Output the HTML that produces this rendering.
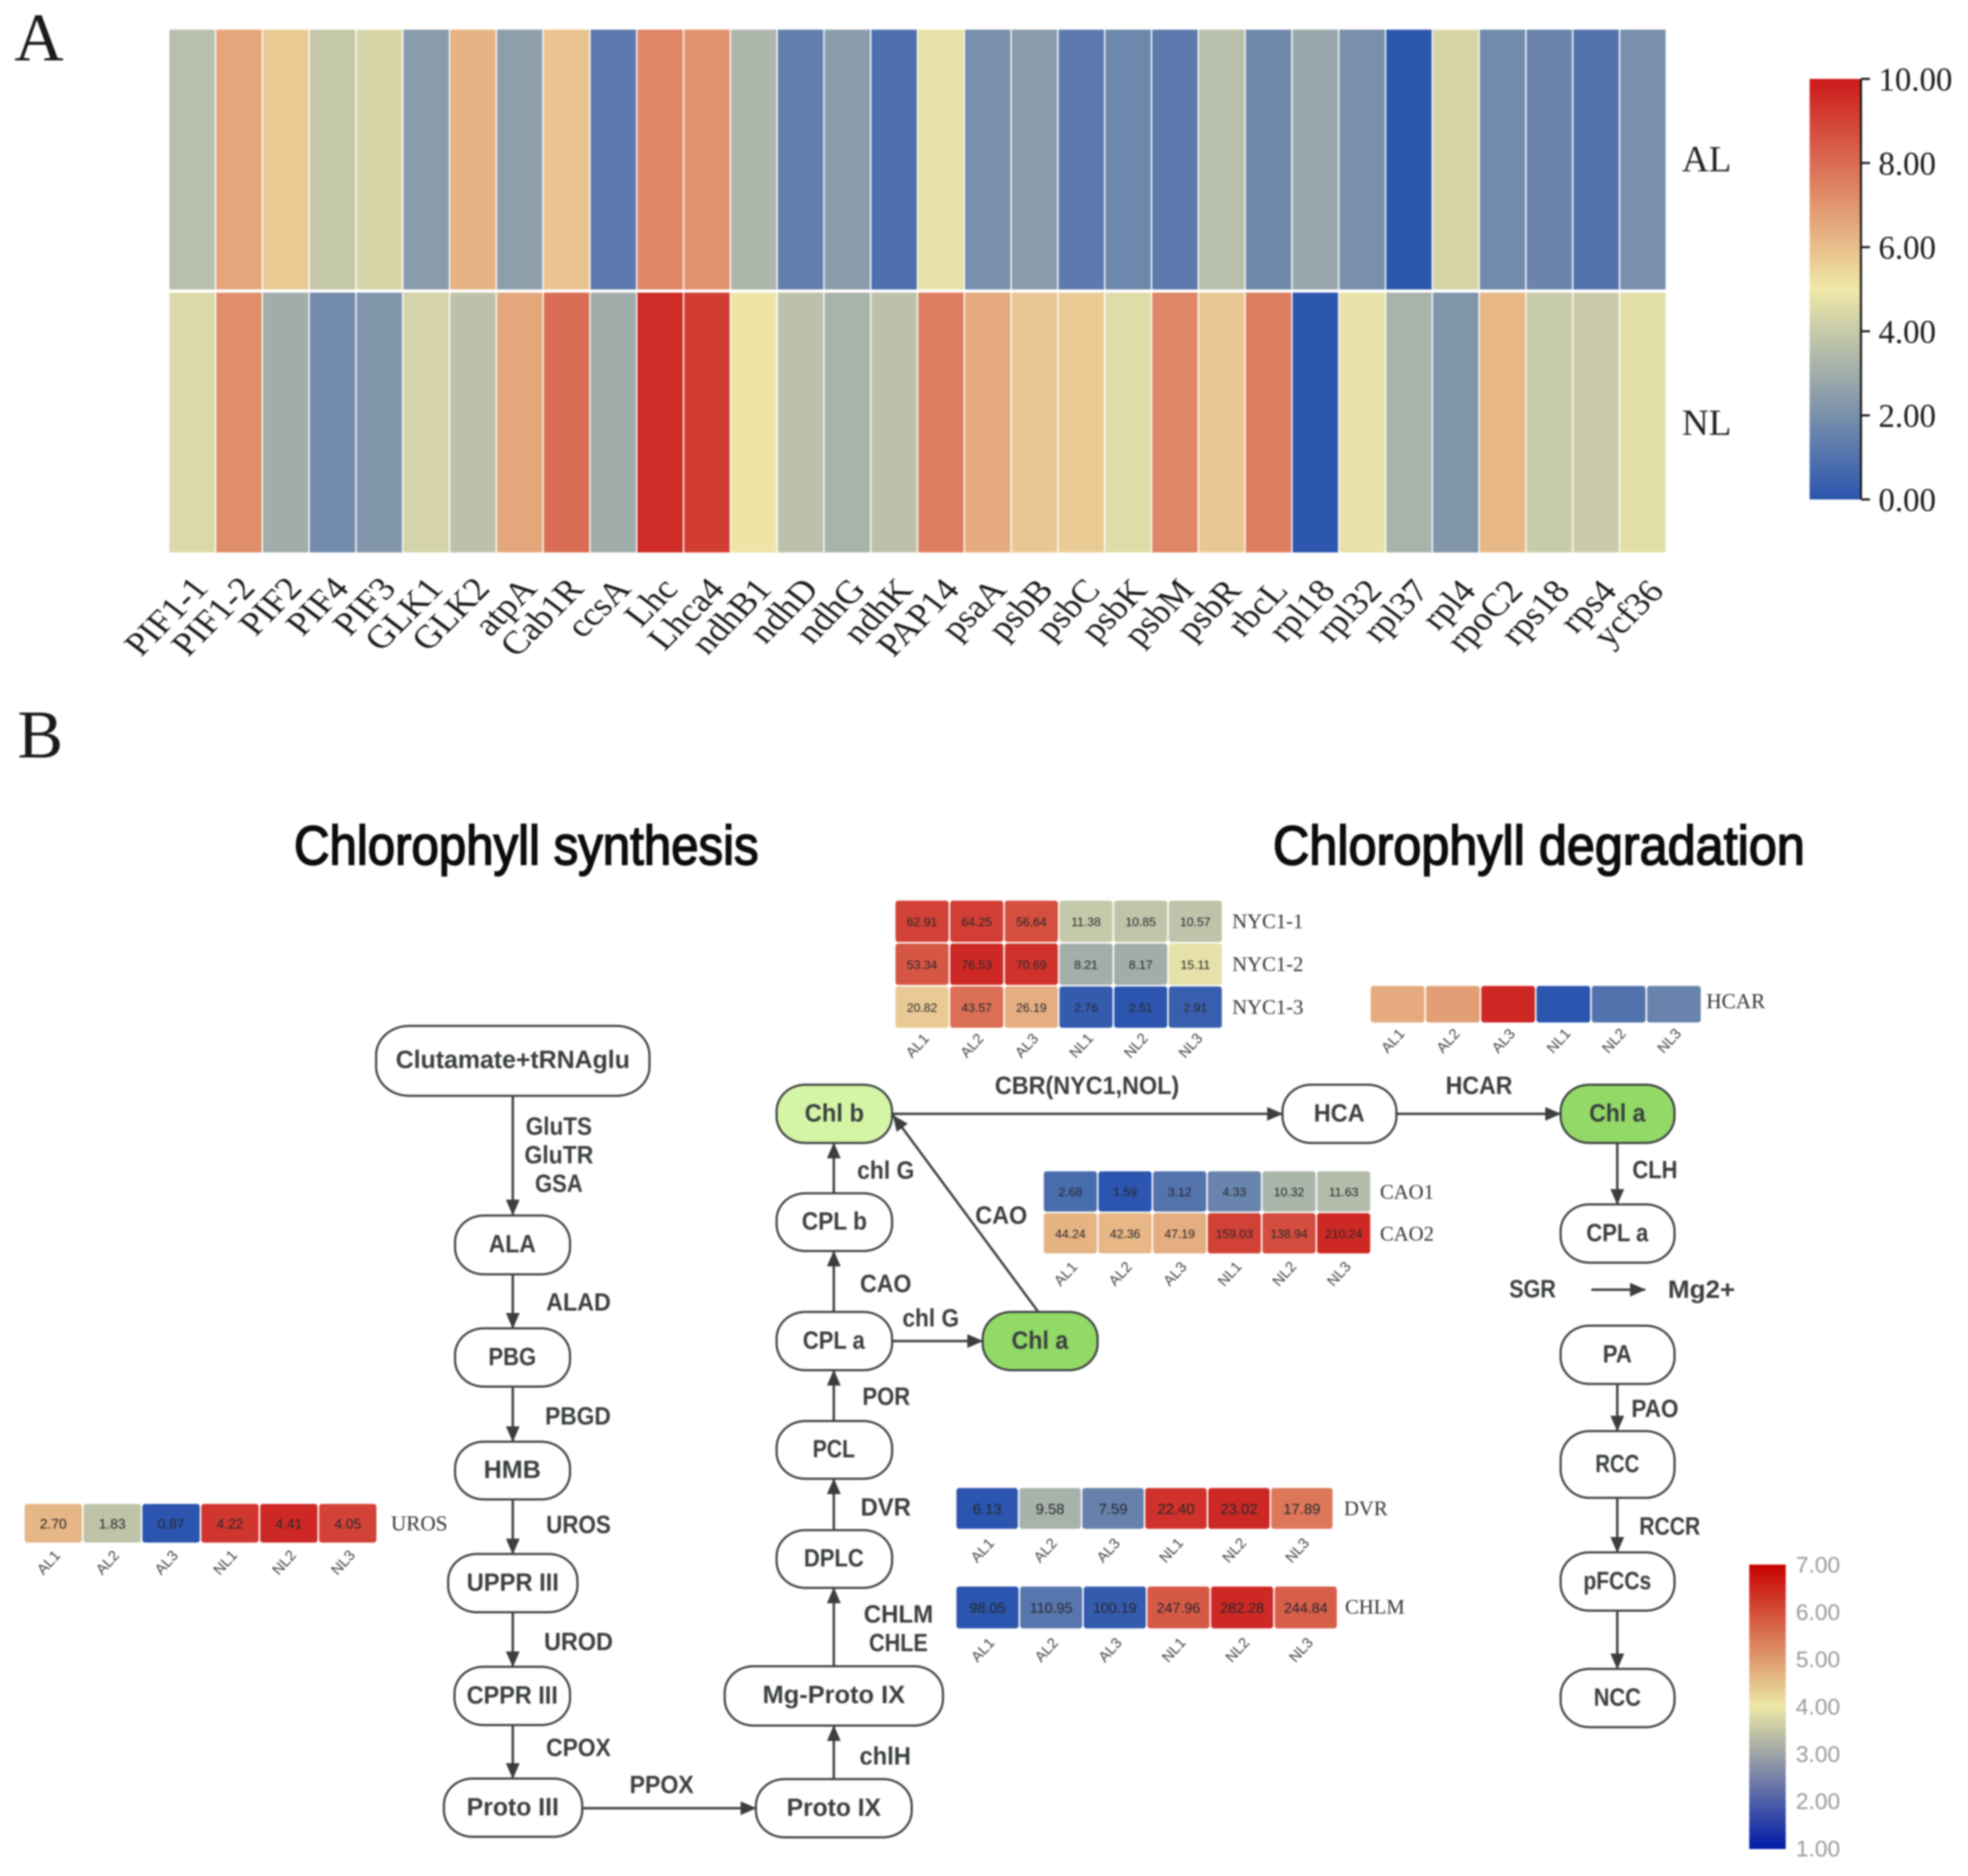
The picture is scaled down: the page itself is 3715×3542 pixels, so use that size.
<!DOCTYPE html>
<html lang="en">
<head>
<meta charset="utf-8">
<title>Chlorophyll gene expression heatmaps and metabolism pathway</title>
<style>
html,body{margin:0;padding:0;background:#fff;width:3715px;height:3542px;overflow:hidden}
svg{display:block;filter:blur(1.6px)}
.serif{font-family:"Liberation Serif",serif}
.sans{font-family:"Liberation Sans",sans-serif}
.node rect{stroke:#3b4040;stroke-width:4;fill:#fff}
.node text,.lab{font-family:"Liberation Sans",sans-serif;font-weight:bold;font-size:47px;fill:#3a3e3e;text-anchor:middle;dominant-baseline:central;transform:translateY(-2px)}
.arr{stroke:#3b3e3e;stroke-width:4.5;fill:none;marker-end:url(#arrow-head)}
</style>
</head>
<body>
<svg id="fig" xmlns="http://www.w3.org/2000/svg" width="3715" height="3542" viewBox="0 0 3715 3542">
<defs>
<marker id="arrow-head" markerUnits="userSpaceOnUse" markerWidth="30" markerHeight="26" refX="29" refY="13" orient="auto"><path d="M0 0L30 13L0 26z" fill="#3b3e3e"/></marker>
<linearGradient id="grad-a" x1="0" y1="0" x2="0" y2="1"><stop offset="0" stop-color="#cc1a1a"/><stop offset=".5" stop-color="#efe8a8"/><stop offset="1" stop-color="#2b55ae"/></linearGradient>
<linearGradient id="grad-b" x1="0" y1="0" x2="0" y2="1"><stop offset="0" stop-color="#c80000"/><stop offset=".5" stop-color="#ece8a6"/><stop offset="1" stop-color="#001aa8"/></linearGradient>
</defs>
<rect width="3715" height="3542" fill="#fff"/>

<text class="serif" x="27" y="114" font-size="129" fill="#1a1a1a">A</text>
<text class="serif" x="33" y="1430" font-size="129" fill="#1a1a1a">B</text>

<g id="panel-a"></g>
<g id="panel-a-colorbar">
  <rect x="3416" y="149" width="97" height="794" fill="url(#grad-a)"/>
</g>

<text class="sans" x="555" y="1632" font-size="104" textLength="877" lengthAdjust="spacingAndGlyphs" fill="#0c0c0c" stroke="#0c0c0c" stroke-width="3">Chlorophyll synthesis</text>
<text class="sans" x="2403" y="1632" font-size="104" textLength="1004" lengthAdjust="spacingAndGlyphs" fill="#0c0c0c" stroke="#0c0c0c" stroke-width="3">Chlorophyll degradation</text>

<g id="arrows">
  <line class="arr" x1="968" y1="2069" x2="968" y2="2294"/>
  <line class="arr" x1="968" y1="2406" x2="968" y2="2508"/>
  <line class="arr" x1="968" y1="2618" x2="968" y2="2722"/>
  <line class="arr" x1="968" y1="2831" x2="968" y2="2934"/>
  <line class="arr" x1="968" y1="3044" x2="968" y2="3147"/>
  <line class="arr" x1="968" y1="3257" x2="968" y2="3358"/>
  <line class="arr" x1="1099" y1="3414" x2="1427" y2="3414"/>
  <line class="arr" x1="1574" y1="3359" x2="1574" y2="3258"/>
  <line class="arr" x1="1574" y1="3145" x2="1574" y2="2998"/>
  <line class="arr" x1="1574" y1="2889" x2="1574" y2="2792"/>
  <line class="arr" x1="1574" y1="2683" x2="1574" y2="2587"/>
  <line class="arr" x1="1574" y1="2476" x2="1574" y2="2362"/>
  <line class="arr" x1="1574" y1="2253" x2="1574" y2="2158"/>
  <line class="arr" x1="1684" y1="2532" x2="1855" y2="2532"/>
  <line class="arr" x1="1960" y1="2477" x2="1686" y2="2106"/>
  <line class="arr" x1="1684" y1="2103" x2="2421" y2="2103"/>
  <line class="arr" x1="2637" y1="2103" x2="2946" y2="2103"/>
  <line class="arr" x1="3053" y1="2158" x2="3053" y2="2274"/>
  <line class="arr" x1="3004" y1="2435" x2="3106" y2="2435"/>
  <line class="arr" x1="3053" y1="2613" x2="3053" y2="2702"/>
  <line class="arr" x1="3053" y1="2828" x2="3053" y2="2931"/>
  <line class="arr" x1="3053" y1="3041" x2="3053" y2="3151"/>
</g>

<g id="nodes">
  <g class="node"><rect x="710" y="1937" width="516" height="132" rx="62" ry="55"/><text x="968" y="2002" textLength="442" lengthAdjust="spacingAndGlyphs">Clutamate+tRNAglu</text></g>
  <g class="node"><rect x="859" y="2295" width="217" height="111" rx="54" ry="50"/><text x="967" y="2350" textLength="89" lengthAdjust="spacingAndGlyphs">ALA</text></g>
  <g class="node"><rect x="859" y="2508" width="217" height="110" rx="54" ry="50"/><text x="967" y="2563" textLength="90" lengthAdjust="spacingAndGlyphs">PBG</text></g>
  <g class="node"><rect x="859" y="2722" width="217" height="109" rx="54" ry="50"/><text x="967" y="2776" textLength="108" lengthAdjust="spacingAndGlyphs">HMB</text></g>
  <g class="node"><rect x="846" y="2934" width="244" height="110" rx="54" ry="50"/><text x="968" y="2989" textLength="174" lengthAdjust="spacingAndGlyphs">UPPR III</text></g>
  <g class="node"><rect x="858" y="3147" width="218" height="110" rx="54" ry="50"/><text x="967" y="3202" textLength="172" lengthAdjust="spacingAndGlyphs">CPPR III</text></g>
  <g class="node"><rect x="838" y="3358" width="261" height="110" rx="54" ry="50"/><text x="968" y="3413" textLength="174" lengthAdjust="spacingAndGlyphs">Proto III</text></g>
  <g class="node"><rect x="1427" y="3359" width="294" height="110" rx="54" ry="50"/><text x="1574" y="3414" textLength="178" lengthAdjust="spacingAndGlyphs">Proto IX</text></g>
  <g class="node"><rect x="1368" y="3146" width="412" height="112" rx="54" ry="50"/><text x="1574" y="3201" textLength="269" lengthAdjust="spacingAndGlyphs">Mg-Proto IX</text></g>
  <g class="node"><rect x="1466" y="2889" width="218" height="109" rx="54" ry="50"/><text x="1574" y="2943" textLength="113" lengthAdjust="spacingAndGlyphs">DPLC</text></g>
  <g class="node"><rect x="1466" y="2683" width="218" height="109" rx="54" ry="50"/><text x="1574" y="2737" textLength="80" lengthAdjust="spacingAndGlyphs">PCL</text></g>
  <g class="node"><rect x="1466" y="2477" width="218" height="110" rx="54" ry="50"/><text x="1574" y="2532" textLength="117" lengthAdjust="spacingAndGlyphs">CPL a</text></g>
  <g class="node"><rect x="1466" y="2253" width="218" height="109" rx="54" ry="50"/><text x="1575" y="2307" textLength="123" lengthAdjust="spacingAndGlyphs">CPL b</text></g>
  <g class="node"><rect x="1466" y="2048" width="218" height="110" rx="54" ry="50" style="fill:#d5f5a6"/><text x="1575" y="2103" textLength="112" lengthAdjust="spacingAndGlyphs">Chl b</text></g>
  <g class="node"><rect x="1855" y="2477" width="217" height="110" rx="54" ry="50" style="fill:#92d968"/><text x="1963" y="2532" textLength="107" lengthAdjust="spacingAndGlyphs">Chl a</text></g>
  <g class="node"><rect x="2421" y="2048" width="215" height="110" rx="54" ry="50"/><text x="2528" y="2103" textLength="96" lengthAdjust="spacingAndGlyphs">HCA</text></g>
  <g class="node"><rect x="2946" y="2048" width="215" height="110" rx="54" ry="50" style="fill:#92d968"/><text x="3053" y="2103" textLength="106" lengthAdjust="spacingAndGlyphs">Chl a</text></g>
  <g class="node"><rect x="2946" y="2274" width="215" height="110" rx="54" ry="50"/><text x="3053" y="2329" textLength="117" lengthAdjust="spacingAndGlyphs">CPL a</text></g>
  <g class="node"><rect x="2946" y="2503" width="215" height="110" rx="54" ry="50"/><text x="3053" y="2558" textLength="55" lengthAdjust="spacingAndGlyphs">PA</text></g>
  <g class="node"><rect x="2946" y="2702" width="215" height="126" rx="54" ry="54"/><text x="3053" y="2765" textLength="83" lengthAdjust="spacingAndGlyphs">RCC</text></g>
  <g class="node"><rect x="2946" y="2931" width="215" height="110" rx="54" ry="50"/><text x="3053" y="2986" textLength="128" lengthAdjust="spacingAndGlyphs">pFCCs</text></g>
  <g class="node"><rect x="2946" y="3151" width="215" height="110" rx="54" ry="50"/><text x="3053" y="3206" textLength="89" lengthAdjust="spacingAndGlyphs">NCC</text></g>
</g>

<g id="enzymes">
  <text class="lab" x="1055" y="2128" textLength="125" lengthAdjust="spacingAndGlyphs">GluTS</text>
  <text class="lab" x="1055" y="2182" textLength="130" lengthAdjust="spacingAndGlyphs">GluTR</text>
  <text class="lab" x="1055" y="2236" textLength="90" lengthAdjust="spacingAndGlyphs">GSA</text>
  <text class="lab" x="1092" y="2460" textLength="122" lengthAdjust="spacingAndGlyphs">ALAD</text>
  <text class="lab" x="1091" y="2675" textLength="124" lengthAdjust="spacingAndGlyphs">PBGD</text>
  <text class="lab" x="1092" y="2880" textLength="122" lengthAdjust="spacingAndGlyphs">UROS</text>
  <text class="lab" x="1092" y="3101" textLength="130" lengthAdjust="spacingAndGlyphs">UROD</text>
  <text class="lab" x="1092" y="3301" textLength="122" lengthAdjust="spacingAndGlyphs">CPOX</text>
  <text class="lab" x="1249" y="3371" textLength="121" lengthAdjust="spacingAndGlyphs">PPOX</text>
  <text class="lab" x="1671" y="3317" textLength="97" lengthAdjust="spacingAndGlyphs">chlH</text>
  <text class="lab" x="1696" y="3049" textLength="131" lengthAdjust="spacingAndGlyphs">CHLM</text>
  <text class="lab" x="1696" y="3103" textLength="111" lengthAdjust="spacingAndGlyphs">CHLE</text>
  <text class="lab" x="1672" y="2847" textLength="95" lengthAdjust="spacingAndGlyphs">DVR</text>
  <text class="lab" x="1673" y="2638" textLength="90" lengthAdjust="spacingAndGlyphs">POR</text>
  <text class="lab" x="1757" y="2490" textLength="107" lengthAdjust="spacingAndGlyphs">chl G</text>
  <text class="lab" x="1672" y="2425" textLength="97" lengthAdjust="spacingAndGlyphs">CAO</text>
  <text class="lab" x="1672" y="2211" textLength="108" lengthAdjust="spacingAndGlyphs">chl G</text>
  <text class="lab" x="1890" y="2296" textLength="98" lengthAdjust="spacingAndGlyphs">CAO</text>
  <text class="lab" x="2052" y="2051" textLength="348" lengthAdjust="spacingAndGlyphs">CBR(NYC1,NOL)</text>
  <text class="lab" x="2792" y="2051" textLength="126" lengthAdjust="spacingAndGlyphs">HCAR</text>
  <text class="lab" x="3124" y="2210" textLength="85" lengthAdjust="spacingAndGlyphs">CLH</text>
  <text class="lab" x="2893" y="2435" textLength="88" lengthAdjust="spacingAndGlyphs">SGR</text>
  <text class="lab" x="3212" y="2436" textLength="127" lengthAdjust="spacingAndGlyphs">Mg2+</text>
  <text class="lab" x="3124" y="2661" textLength="89" lengthAdjust="spacingAndGlyphs">PAO</text>
  <text class="lab" x="3152" y="2883" textLength="115" lengthAdjust="spacingAndGlyphs">RCCR</text>
</g>

<g id="blocks"></g>
<g id="panel-b-colorbar">
  <rect x="3302" y="2954" width="69" height="537" fill="url(#grad-b)"/>
</g>
</svg>

<script>
// ---- Panel A data ----
const geneNames = ['PIF1-1','PIF1-2','PIF2','PIF4','PIF3','GLK1','GLK2','atpA','Cab1R','ccsA','Lhc','Lhca4','ndhB1','ndhD','ndhG','ndhK','PAP14','psaA','psbB','psbC','psbK','psbM','psbR','rbcL','rpl18','rpl32','rpl37','rpl4','rpoC2','rps18','rps4','ycf36'];
const rowNames = ['AL','NL'];
const alValues = [3.6,6.6,5.7,3.9,4.4,2.4,6.3,2.5,5.9,1.25,7.4,7.1,3.3,1.4,2.4,0.87,4.8,2.0,2.4,1.25,1.7,1.25,3.6,1.75,2.8,2.0,0.05,4.4,1.8,1.6,1.0,2.0];
const nlValues = [4.5,7.2,3.0,1.8,2.2,4.3,3.7,6.6,8.0,3.0,9.6,9.2,5.1,3.7,3.2,3.7,7.6,6.5,5.8,5.7,4.6,7.4,5.8,7.6,0.05,4.8,3.2,2.2,6.2,4.0,4.05,4.7];
const colorbarATicks = [0,2,4,6,8,10];
const colorbarATickLabels = ['0.00','2.00','4.00','6.00','8.00','10.00'];

// ---- Panel B data ----
const sampleLabels = ['AL1','AL2','AL3','NL1','NL2','NL3'];
const nyc1Genes = ['NYC1-1','NYC1-2','NYC1-3'];
const nyc11Values = [62.91,64.25,56.64,11.38,10.85,10.57];
const nyc12Values = [53.34,76.53,70.69,8.21,8.17,15.11];
const nyc13Values = [20.82,43.57,26.19,2.76,2.51,2.91];
const hcarGenes = ['HCAR'];
const hcarValues = [19.4,21.6,63,1,1.83,2.48];
const caoGenes = ['CAO1','CAO2'];
const cao1Values = [2.68,1.59,3.12,4.33,10.32,11.63];
const cao2Values = [44.24,42.36,47.19,159.03,138.94,210.24];
const urosGenes = ['UROS'];
const urosValues = [2.70,1.83,0.87,4.22,4.41,4.05];
const dvrGenes = ['DVR'];
const dvrValues = [6.13,9.58,7.59,22.40,23.02,17.89];
const chlmGenes = ['CHLM'];
const chlmValues = [98.05,110.95,100.19,247.96,282.28,244.84];
const colorbarBTicks = [1,2,3,4,5,6,7];
const colorbarBTickLabels = ['1.00','2.00','3.00','4.00','5.00','6.00','7.00'];

const SVGNS = 'http://www.w3.org/2000/svg';
function mk(parent, tag, attrs, txt){
  const el = document.createElementNS(SVGNS, tag);
  for (const k in attrs) el.setAttribute(k, attrs[k]);
  if (txt !== undefined) el.textContent = txt;
  parent.appendChild(el);
  return el;
}
function lerp(a,b,t){return Math.round(a+(b-a)*t);}
function cmap(t){ // t in 0..1, blue - pale yellow - red
  t = Math.max(0, Math.min(1, t));
  const lo=[43,85,174], mid=[239,232,168], hi=[204,28,28];
  const A = t<.5?lo:mid, B = t<.5?mid:hi, u = t<.5?t*2:(t-.5)*2;
  return 'rgb('+lerp(A[0],B[0],u)+','+lerp(A[1],B[1],u)+','+lerp(A[2],B[2],u)+')';
}
function bandScale(x0,x1,n){const w=(x1-x0)/n;return {at:i=>x0+i*w,w:w};}
function linScale(d0,d1,r0,r1){return v=>r0+(v-d0)/(d1-d0)*(r1-r0);}

// ---- Panel A heatmap ----
function drawPanelA(){
  const g = document.getElementById('panel-a');
  const x = bandScale(318.5,3145.5,geneNames.length);
  const y = bandScale(56,1043,rowNames.length);
  const color = linScale(0,10,0,1);
  [alValues,nlValues].forEach(function(vals,r){
    vals.forEach(function(v,c){
      const cell = mk(g,'rect',{x:x.at(c)+1.3,y:y.at(r)+(r?3:0),width:x.w-2.6,height:y.w-3,fill:cmap(color(v))});
      
      
    });
    const rowLabel = mk(g,'text',{x:3175,y:y.at(r)+y.w/2-2+(r?4:0),'class':'serif','font-size':70,fill:'#222','dominant-baseline':'central'},rowNames[r]);
    
    
  });
  geneNames.forEach(function(name,c){
    const px = x.at(c)+x.w/2+33+c*0.3, py = 1112+c*0.2;
    const t = mk(g,'text',{x:0,y:0,'class':'serif','font-size':71,fill:'#1a1a1a','text-anchor':'end',transform:'translate('+px+' '+py+') scale(1 .87) rotate(-49)'},name);
    
    
  });
}

// ---- Panel A colorbar axis ----
function drawColorbarA(){
  const g = document.getElementById('panel-a-colorbar');
  const y = linScale(0,10,943,149);
  const axis = mk(g,'line',{x1:3513,x2:3513,y1:y(10),y2:y(0),stroke:'#1a1a1a','stroke-width':4});
  
  
  colorbarATicks.forEach(function(v,i){
    const tick = mk(g,'line',{x1:3513,x2:3530,y1:y(v),y2:y(v),stroke:'#1a1a1a','stroke-width':4});
    
    
    const lab = mk(g,'text',{x:3546,y:y(v)+2,'class':'serif','font-size':62,fill:'#1a1a1a','dominant-baseline':'central'},colorbarATickLabels[i]);
    
    
  });
}

// ---- Panel B colorbar labels ----
function drawColorbarB(){
  const g = document.getElementById('panel-b-colorbar');
  const y = linScale(1,7,3491,2955);
  colorbarBTicks.forEach(function(v,i){
    const lab = mk(g,'text',{x:3390,y:y(v),'class':'sans','font-size':43,fill:'#9a9a9a','dominant-baseline':'central'},colorbarBTickLabels[i]);
    
    
  });
}

// ---- Panel B small heatmaps (log2(v+1) scale per block) ----
function logv(v){return Math.log2(v+1);}
function drawBlock(opt){
  const root = document.getElementById('blocks');
  const g = mk(root,'g',{});
  
  
  const all = [].concat.apply([],opt.rows).map(logv);
  const lo = Math.min.apply(null,all), hi = Math.max.apply(null,all);
  const color = linScale(lo,hi,0,0.97);
  const x = bandScale(opt.x0,opt.x1,sampleLabels.length);
  const y = bandScale(opt.y0,opt.y1,opt.rows.length);
  opt.rows.forEach(function(vals,r){
    vals.forEach(function(v,c){
      const cell = mk(g,'rect',{x:x.at(c)+1.5,y:y.at(r)+1.5,width:x.w-3,height:y.w-3,rx:5,fill:cmap(color(logv(v)))});
      
      
      if (opt.showValues){
        const t = mk(g,'text',{x:x.at(c)+x.w/2,y:y.at(r)+y.w/2+1,'class':'sans','font-size':opt.valueSize,fill:'#26262c','text-anchor':'middle','dominant-baseline':'central'},v.toFixed(2));
        
        
      }
    });
    const lab = mk(g,'text',{x:opt.labelX,y:y.at(r)+y.w/2+(opt.labelDy||0),'class':'serif','font-size':opt.labelSize||39,fill:'#333','dominant-baseline':'central'},opt.genes[r]);
    
    
  });
  sampleLabels.forEach(function(s,c){
    const px = x.at(c)+x.w/2-9, py = opt.colY;
    const t = mk(g,'text',{x:px,y:py,'class':'sans','font-size':28,fill:'#444','text-anchor':'middle','dominant-baseline':'central',transform:'rotate(-48 '+px+' '+py+')'},s);
    
    
  });
}

drawPanelA();
drawColorbarA();
drawColorbarB();
drawBlock({name:'nyc1-heatmap',genes:nyc1Genes,rows:[nyc11Values,nyc12Values,nyc13Values],x0:1689,x1:2308,y0:1699,y1:1942,labelX:2326,labelDy:0,colY:1974,valueSize:23,showValues:true});
drawBlock({name:'hcar-heatmap',genes:hcarGenes,rows:[hcarValues],x0:2586,x1:3212,y0:1860,y1:1932,labelX:3221,labelDy:-6,labelSize:40,colY:1965,valueSize:23,showValues:false});
drawBlock({name:'cao-heatmap',genes:caoGenes,rows:[cao1Values,cao2Values],x0:1969,x1:2588,y0:2210,y1:2368,labelX:2605,labelDy:1,colY:2405,valueSize:23,showValues:true});
drawBlock({name:'uros-heatmap',genes:urosGenes,rows:[urosValues],x0:45,x1:712,y0:2838,y1:2914,labelX:738,labelSize:40,colY:2950,valueSize:26,showValues:true});
drawBlock({name:'dvr-heatmap',genes:dvrGenes,rows:[dvrValues],x0:1804,x1:2517,y0:2808,y1:2888,labelX:2537,colY:2927,valueSize:28,showValues:true});
drawBlock({name:'chlm-heatmap',genes:chlmGenes,rows:[chlmValues],x0:1804,x1:2525,y0:2994,y1:3076,labelX:2539,labelDy:-1,colY:3115,valueSize:27,showValues:true});
</script>
</body>
</html>
